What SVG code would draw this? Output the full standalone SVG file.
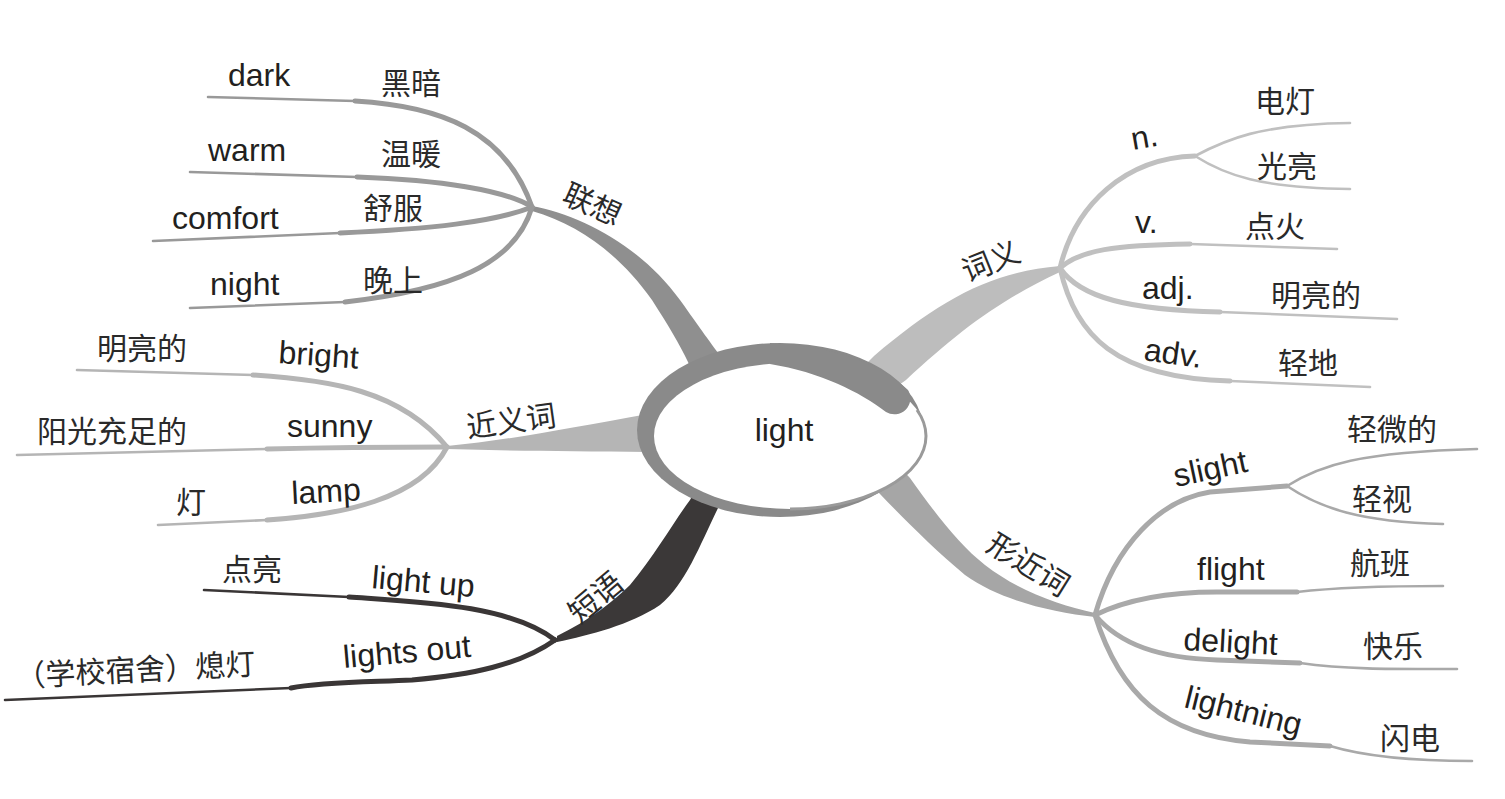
<svg xmlns="http://www.w3.org/2000/svg" width="1505" height="799" viewBox="0 0 1505 799">
<style>
.en{font-family:"Liberation Sans",Arial,sans-serif;font-size:32px;fill:#231f20}
.zh{font-family:"Noto Sans CJK SC","Noto Sans CJK TC",sans-serif;font-size:30px;fill:#2a2a2a}
.l{fill:none;stroke-linecap:round;stroke-linejoin:round}
.w{stroke-width:5}
.t{stroke-width:2.6}
.g1{stroke:#999999}
.g2{stroke:#b5b5b5}
.g3{stroke:#c0c0c0}
.g4{stroke:#a9a9a9}
.g5{stroke:#3a3636}
</style>
<rect width="1505" height="799" fill="#ffffff"/>
<g id="connectors">
  <!-- main branches -->
  <path d="M532 206 C580 215,640 245,680 300 C700 328,712 345,722 358 L738 385 L700 390 L688 362 C680 345,668 325,652 300 C620 255,580 225,532 211 Z" fill="#8f8f8f"/>
  <path d="M447 446 C510 440,570 428,648 414 L665 414 L665 452 L648 452 C570 451,510 451,447 449 Z" fill="#b5b5b5"/>
  <path d="M1060 266 C990 272,940 300,874 356 L855 375 L885 395 L906 380 C960 330,1000 300,1060 272 Z" fill="#bdbdbd"/>
  <path d="M910 478 L895 462 L865 478 L880 494 C905 520,935 550,965 575 C1000 600,1050 612,1095 617 L1095 613 C1060 605,1020 592,985 565 C960 545,940 520,910 478 Z" fill="#a6a6a6"/>
  <path d="M557 636 C590 620,615 600,630 585 C655 555,675 520,690 500 L696 488 L728 494 L718 508 C700 545,685 585,660 605 C630 625,590 635,557 642 Z" fill="#3b3838"/>
  <!-- 联想 leaves -->
  <path class="l t g1" d="M208 97 L355 101"/>
  <path class="l w g1" d="M355 101 C440 106,505 130,532 207"/>
  <path class="l t g1" d="M190 172 L357 177"/>
  <path class="l w g1" d="M357 177 C440 180,505 190,532 207"/>
  <path class="l t g1" d="M153 241 L340 233"/>
  <path class="l w g1" d="M340 233 C430 229,495 222,532 207"/>
  <path class="l t g1" d="M190 308 L345 302"/>
  <path class="l w g1" d="M345 302 C450 290,515 265,532 207"/>
  <!-- 近义词 leaves -->
  <path class="l t g2" d="M77 370 L253 375"/>
  <path class="l w g2" d="M253 375 C330 380,400 390,447 447"/>
  <path class="l t g2" d="M17 455 L267 449"/>
  <path class="l w g2" d="M267 449 C350 447,410 447,447 447"/>
  <path class="l t g2" d="M158 525 L267 520"/>
  <path class="l w g2" d="M267 520 C340 515,420 500,447 447"/>
  <!-- 短语 leaves -->
  <path class="l t g5" d="M204 590 L349 597"/>
  <path class="l w g5" d="M349 597 C420 602,510 605,555 640"/>
  <path class="l t g5" d="M5 700 L291 688"/>
  <path class="l w g5" d="M291 688 C320 682,370 682,412 680 C470 675,520 665,555 640"/>
  <!-- 词义 leaves -->
  <path class="l w g3" d="M1060 268 C1075 205,1125 158,1195 156"/>
  <path class="l t g3" d="M1195 156 C1225 140,1260 124,1350 123"/>
  <path class="l t g3" d="M1195 156 C1225 175,1260 188,1350 189"/>
  <path class="l w g3" d="M1060 268 C1080 250,1115 245,1190 244"/>
  <path class="l t g3" d="M1190 244 L1337 249"/>
  <path class="l w g3" d="M1060 268 C1080 298,1130 310,1220 312"/>
  <path class="l t g3" d="M1220 312 L1397 319"/>
  <path class="l w g3" d="M1060 268 C1075 335,1115 378,1230 381"/>
  <path class="l t g3" d="M1230 381 L1370 387"/>
  <!-- 形近词 leaves -->
  <path class="l w g4" d="M1095 615 C1115 545,1160 500,1210 492 L1287 486"/>
  <path class="l t g4" d="M1287 486 C1320 465,1360 452,1477 449"/>
  <path class="l t g4" d="M1287 486 C1320 508,1360 522,1443 524"/>
  <path class="l w g4" d="M1095 615 C1130 598,1170 592,1217 592 L1297 592"/>
  <path class="l t g4" d="M1297 592 C1340 587,1390 586,1443 586"/>
  <path class="l w g4" d="M1095 615 C1120 645,1160 658,1217 660 L1300 663"/>
  <path class="l t g4" d="M1300 663 C1350 670,1400 669,1457 669"/>
  <path class="l w g4" d="M1095 615 C1120 695,1165 735,1250 742 L1330 746"/>
  <path class="l t g4" d="M1330 746 C1370 758,1420 761,1472 761"/>
</g>
<g id="center">
  <ellipse cx="780" cy="430" rx="143" ry="87" fill="#8a8a8a"/>
  <ellipse cx="790" cy="436" rx="136" ry="73" fill="#ffffff"/>
  <path d="M770 343 C830 346,880 362,908 390 A16 16 0 0 1 886 412 C860 392,820 372,770 364 Z" fill="#8a8a8a"/>
  <path d="M790 509 A136 73 0 0 0 926 436 A136 73 0 0 0 917 410" fill="none" stroke="#9a9a9a" stroke-width="3"/>
  <text class="en" x="784" y="441" text-anchor="middle" font-size="33">light</text>
</g>
<g id="lianxiang">
  <text class="zh" transform="translate(592 205) rotate(24)" text-anchor="middle" y="10">联想</text>
  <text class="en" x="228" y="86">dark</text>
  <text class="zh" x="381" y="94">黑暗</text>
  <text class="en" x="208" y="161">warm</text>
  <text class="zh" x="381" y="165">温暖</text>
  <text class="en" x="172" y="229">comfort</text>
  <text class="zh" x="363" y="219">舒服</text>
  <text class="en" x="210" y="295">night</text>
  <text class="zh" x="363" y="291">晚上</text>
</g>
<g id="jinyici">
  <text class="zh" transform="translate(468 438) rotate(-8)">近义词</text>
  <text class="zh" x="97" y="359">明亮的</text>
  <text class="en" transform="translate(278 363) rotate(4)">bright</text>
  <text class="zh" x="37" y="442">阳光充足的</text>
  <text class="en" x="287" y="437">sunny</text>
  <text class="zh" x="176" y="513">灯</text>
  <text class="en" transform="translate(292 504) rotate(-3)">lamp</text>
</g>
<g id="duanyu">
  <text class="zh" transform="translate(596 598) rotate(-40)" text-anchor="middle" y="10">短语</text>
  <text class="zh" x="222" y="580">点亮</text>
  <text class="en" transform="translate(371 588) rotate(5)">light up</text>
  <text class="en" transform="translate(344 668) rotate(-5)">lights out</text>
  <text class="zh" transform="translate(16 687) rotate(-3)" font-size="33">（学校宿舍）熄灯</text>
</g>
<g id="ciyi">
  <text class="zh" transform="translate(991 262) rotate(-22)" text-anchor="middle" y="10">词义</text>
  <text class="en" transform="translate(1133 150) rotate(-10)">n.</text>
  <text class="zh" x="1255" y="112">电灯</text>
  <text class="zh" x="1257" y="177">光亮</text>
  <text class="en" x="1135" y="233">v.</text>
  <text class="zh" x="1245" y="237">点火</text>
  <text class="en" x="1142" y="299">adj.</text>
  <text class="zh" x="1271" y="306">明亮的</text>
  <text class="en" transform="translate(1143 360) rotate(8)">adv.</text>
  <text class="zh" x="1278" y="374">轻地</text>
</g>
<g id="xingjinci">
  <text class="zh" transform="translate(1028 565) rotate(32)" text-anchor="middle" y="10">形近词</text>
  <text class="en" transform="translate(1176 487) rotate(-12)">slight</text>
  <text class="zh" x="1347" y="440">轻微的</text>
  <text class="zh" x="1352" y="510">轻视</text>
  <text class="en" x="1197" y="580">flight</text>
  <text class="zh" x="1350" y="574">航班</text>
  <text class="en" transform="translate(1183 650) rotate(3)">delight</text>
  <text class="zh" x="1363" y="657">快乐</text>
  <text class="en" transform="translate(1183 707) rotate(14)">lightning</text>
  <text class="zh" x="1380" y="749">闪电</text>
</g>
</svg>
